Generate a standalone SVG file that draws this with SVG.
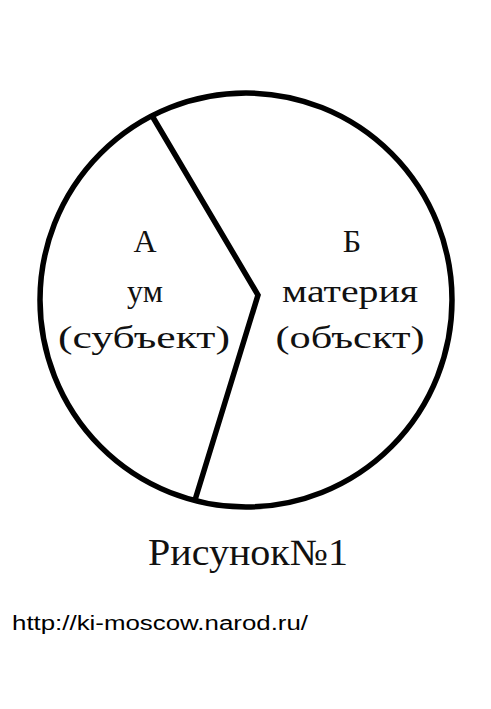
<svg xmlns="http://www.w3.org/2000/svg" width="491" height="709" viewBox="0 0 491 709">
<style>
.shape{fill:none;stroke:#000;stroke-width:5.5;stroke-linejoin:miter}
.lbl{font-family:"Liberation Serif","Times New Roman",serif;font-size:32px;fill:#111;text-anchor:middle}
.cap{font-family:"Liberation Serif","Times New Roman",serif;font-size:37px;fill:#111}
.url{font-family:"Liberation Sans",Arial,sans-serif;font-size:20px;fill:#000}
</style>
<rect width="491" height="709" fill="#fff"/>
<g id="circle">
<ellipse class="shape" cx="246" cy="300" rx="206" ry="207"/>
</g>
<g id="connectors">
<polyline class="shape" points="151,114 258,295 195,500"/>
</g>
<g id="nodeA">
<text class="lbl" x="145" y="252">А</text>
<text class="lbl" x="145" y="302">ум</text>
<text class="lbl" x="144" y="348" textLength="172" lengthAdjust="spacingAndGlyphs">(субъект)</text>
</g>
<g id="nodeB">
<text class="lbl" x="352" y="252">Б</text>
<text class="lbl" x="350" y="302" textLength="136" lengthAdjust="spacingAndGlyphs">материя</text>
<text class="lbl" x="350" y="348" textLength="149" lengthAdjust="spacingAndGlyphs">(объскт)</text>
</g>
<g id="caption">
<text class="cap" x="148" y="565" textLength="200" lengthAdjust="spacingAndGlyphs">Рисунок№1</text>
</g>
<g id="url">
<text class="url" x="12" y="630" textLength="296" lengthAdjust="spacingAndGlyphs">http://ki-moscow.narod.ru/</text>
</g>
</svg>
